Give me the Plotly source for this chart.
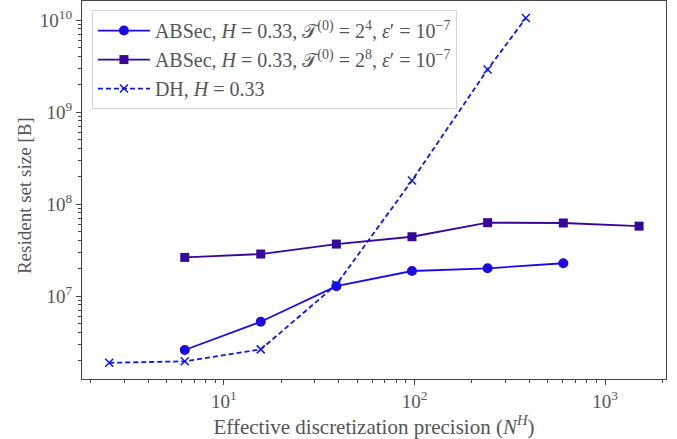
import plotly.graph_objects as go

# Effective discretization precision N^H (H = 0.33)
x_absec = [6.23, 15.6, 38.9, 97.0, 242.0, 604.0]
x_absec_t8 = [6.23, 15.6, 38.9, 97.0, 242.0, 604.0, 1509.0]
x_dh = [2.50, 6.23, 15.6, 38.9, 97.0, 242.0, 384.0]

# Resident set size in bytes
rss_absec_t4 = [2.59e6, 5.25e6, 1.28e7, 1.87e7, 2.00e7, 2.27e7]
rss_absec_t8 = [2.63e7, 2.86e7, 3.67e7, 4.41e7, 6.27e7, 6.22e7, 5.75e7]
rss_dh = [1.88e6, 1.95e6, 2.63e6, 1.33e7, 1.80e8, 2.90e9, 1.05e10]

names = [
    "ABSec, <i>H</i> = 0.33, 𝒯<sup>(0)</sup> = 2<sup>4</sup>, <i>ε</i>′ = 10<sup>−7</sup>",
    "ABSec, <i>H</i> = 0.33, 𝒯<sup>(0)</sup> = 2<sup>8</sup>, <i>ε</i>′ = 10<sup>−7</sup>",
    "DH, <i>H</i> = 0.33",
]

x_major = [10, 100, 1000]
x_major_text = ["10<sup>1</sup>", "10<sup>2</sup>", "10<sup>3</sup>"]
y_major = [1e7, 1e8, 1e9, 1e10]
y_major_text = ["10<sup>7</sup>", "10<sup>8</sup>", "10<sup>9</sup>", "10<sup>10</sup>"]

c_t4 = "#1c0ae6"
c_t8 = "#37079c"
c_dh = "#0a14f5"
text_col = "#555555"
axis_col = "#444444"
font_family = "Liberation Serif, DejaVu Serif, serif"

fig = go.Figure()
fig.add_trace(go.Scatter(
    x=x_absec, y=rss_absec_t4, name=names[0], mode="lines+markers",
    line=dict(color=c_t4, width=1.8),
    marker=dict(symbol="circle", size=10, color=c_t4),
))
fig.add_trace(go.Scatter(
    x=x_absec_t8, y=rss_absec_t8, name=names[1], mode="lines+markers",
    line=dict(color=c_t8, width=1.8),
    marker=dict(symbol="square", size=9, color=c_t8),
))
fig.add_trace(go.Scatter(
    x=x_dh, y=rss_dh, name=names[2], mode="lines+markers",
    line=dict(color=c_dh, width=1.8, dash="5px,3px"),
    marker=dict(symbol="x-thin", size=8, color=c_dh,
                line=dict(color=c_dh, width=1.5)),
))

x_minor = [m * 10 ** k for k in range(0, 4) for m in range(2, 10)]
y_minor = [m * 10 ** k for k in range(6, 11) for m in range(2, 10)]

common_axis = dict(
    type="log", showgrid=False, zeroline=False,
    showline=True, linecolor=axis_col, linewidth=1.2, mirror=True,
    ticks="outside", ticklen=5, tickwidth=1, tickcolor=axis_col,
    tickfont=dict(family=font_family, size=19, color=text_col),
    tickmode="array",
)

fig.update_xaxes(
    **common_axis,
    range=[0.255, 3.32],
    tickvals=x_major, ticktext=x_major_text,
    minor=dict(tickmode="array", tickvals=x_minor, ticks="outside",
               ticklen=3, tickwidth=1, tickcolor=axis_col),
    title=dict(text="Effective discretization precision (<i>N</i><sup><i>H</i></sup>)",
               font=dict(family=font_family, size=21, color=text_col), standoff=2),
)
fig.update_yaxes(
    **common_axis,
    range=[6.098, 10.207],
    tickvals=y_major, ticktext=y_major_text,
    minor=dict(tickmode="array", tickvals=y_minor, ticks="outside",
               ticklen=3, tickwidth=1, tickcolor=axis_col),
)

# y-axis label placed as a rotated annotation
fig.add_annotation(
    text="Resident set size [B]", textangle=-90,
    xref="paper", yref="paper", x=0, y=0.484,
    xanchor="center", yanchor="middle", xshift=-58, showarrow=False,
    font=dict(family=font_family, size=19, color=text_col),
)

fig.update_layout(
    width=677, height=439,
    margin=dict(l=82, r=11, t=1, b=60),
    paper_bgcolor="white", plot_bgcolor="white",
    font=dict(family=font_family, color=text_col),
    showlegend=True,
    legend=dict(
        x=0.017, y=0.976, xanchor="left", yanchor="top",
        bgcolor="rgba(255,255,255,0.8)", bordercolor="#d5d5d5", borderwidth=1,
        font=dict(family=font_family, size=20, color=text_col),
        tracegroupgap=0, itemwidth=52,
    ),
)

fig.write_html("out.html")
